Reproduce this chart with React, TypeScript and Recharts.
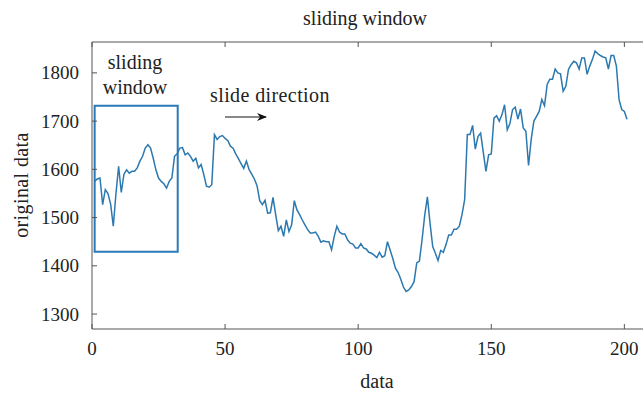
import React from 'react';
import { LineChart, Line, XAxis, YAxis, ReferenceArea } from 'recharts';

// original series, sample index 1..201
const originalData: number[] = [
    1575, 1580, 1582, 1527, 1558, 1550, 1528, 1482, 1550, 1606,
    1552, 1590, 1599, 1592, 1596, 1596, 1603, 1617, 1627, 1644,
    1651, 1644, 1623, 1599, 1582, 1575, 1570, 1561, 1575, 1582,
    1627, 1632, 1644, 1645, 1630, 1634, 1627, 1617, 1623, 1603,
    1610, 1589, 1565, 1563, 1568, 1672, 1662, 1668, 1670, 1664,
    1660, 1648, 1644, 1632, 1622, 1612, 1602, 1617, 1600, 1590,
    1580, 1566, 1535, 1527, 1536, 1509, 1510, 1542, 1506, 1473,
    1482, 1461, 1495, 1471, 1485, 1535, 1516, 1506, 1495, 1485,
    1475, 1468, 1468, 1470, 1461, 1449, 1452, 1450, 1450, 1433,
    1461, 1482, 1470, 1466, 1466, 1454, 1447, 1445, 1437, 1437,
    1446, 1437, 1435, 1428, 1426, 1422, 1417, 1428, 1418, 1421,
    1450, 1433, 1415, 1395, 1386, 1372, 1356, 1347, 1350, 1357,
    1367, 1406, 1410, 1454, 1505, 1543, 1488, 1440, 1426, 1411,
    1432, 1428, 1444, 1464, 1464, 1476, 1476, 1482, 1506, 1537,
    1672, 1672, 1691, 1642, 1668, 1675, 1635, 1596, 1630, 1632,
    1706, 1711, 1700, 1713, 1734, 1682, 1695, 1724, 1729, 1704,
    1725, 1686, 1679, 1608, 1662, 1700, 1710, 1720, 1745, 1732,
    1776, 1787, 1787, 1808, 1800, 1798, 1762, 1772, 1807, 1817,
    1824, 1821, 1808, 1831, 1831, 1797, 1814, 1828, 1845, 1840,
    1836, 1833, 1831, 1808, 1836, 1836, 1814, 1745, 1724, 1720,
    1704,
];

const xTicks = [0, 50, 100, 150, 200];
const yTicks = [1300, 1400, 1500, 1600, 1700, 1800];

// the highlighted window: samples 1..32
const windowStart = 1;
const windowEnd = 32.2;
const windowLow = 1429;
const windowHigh = 1732;

const chartData = originalData.map((v, i) => ({ idx: i + 1, value: v }));

const FONT = '"Liberation Serif", "DejaVu Serif", serif';
const AXIS = '#555';
const TEXT = '#222';

const BottomTick = (props: any) => {
    const { x, y, payload } = props;
    return (
        <g>
            <line x1={x} y1={y} x2={x} y2={y - 5} stroke={AXIS} />
            <text x={x} y={y + 26} textAnchor="middle" fontFamily={FONT} fontSize={19} fill={TEXT}>
                {payload.value}
            </text>
        </g>
    );
};

const TopTick = (props: any) => {
    const { x, y } = props;
    return <line x1={x} y1={y} x2={x} y2={y + 5} stroke={AXIS} />;
};

const LeftTick = (props: any) => {
    const { x, y, payload } = props;
    return (
        <g>
            <line x1={x} y1={y} x2={x + 5} y2={y} stroke={AXIS} />
            <text x={x - 13} y={y + 6.5} textAnchor="end" fontFamily={FONT} fontSize={19} fill={TEXT}>
                {payload.value}
            </text>
        </g>
    );
};

export default function App() {
    return (
        <div style={{ position: 'absolute', left: 0, top: 0, width: 643, height: 394, background: '#fff' }}>
            <LineChart width={643} height={394} data={chartData}
                margin={{ top: 0, right: 0, left: 0, bottom: 0 }}>
                <XAxis xAxisId="top" orientation="top" dataKey="idx" type="number"
                    domain={[0, 207]} ticks={xTicks} height={42}
                    stroke={AXIS} tickLine={false} tickSize={0} tickMargin={0}
                    tick={<TopTick />} />
                <XAxis dataKey="idx" type="number" domain={[0, 207]} ticks={xTicks}
                    height={65} stroke={AXIS} tickLine={false} tickSize={0} tickMargin={0}
                    tick={<BottomTick />} allowDataOverflow />
                <YAxis type="number" domain={[1269, 1864]} ticks={yTicks} width={92}
                    stroke={AXIS} tickLine={false} tickSize={0} tickMargin={0}
                    tick={<LeftTick />} allowDataOverflow />
                <ReferenceArea x1={windowStart} x2={windowEnd} y1={windowLow} y2={windowHigh}
                    fill="none" fillOpacity={0} stroke="#2a7ab9" strokeWidth={2} />
                <Line type="linear" dataKey="value" stroke="#2c79b0" strokeWidth={1.5}
                    dot={false} isAnimationActive={false} />
            </LineChart>
            <svg width={643} height={394}
                style={{ position: 'absolute', left: 0, top: 0, pointerEvents: 'none' }}>
                <defs>
                    <marker id="arrowHead" markerWidth="10" markerHeight="8" refX="9" refY="4"
                        orient="auto" markerUnits="userSpaceOnUse">
                        <path d="M0,0 L10,4 L0,8 L3,4 Z" fill="#111" />
                    </marker>
                </defs>
                <text x={365} y={25} textAnchor="middle" fontFamily={FONT} fontSize={20} fill={TEXT}>
                    sliding window
                </text>
                <text x={135} y={69} textAnchor="middle" fontFamily={FONT} fontSize={20} fill={TEXT}>
                    sliding
                </text>
                <text x={135} y={94} textAnchor="middle" fontFamily={FONT} fontSize={20} fill={TEXT}>
                    window
                </text>
                <text x={210} y={102} fontFamily={FONT} fontSize={20} fill={TEXT} letterSpacing={0.4}>
                    slide direction
                </text>
                <line x1={225} y1={117} x2={266} y2={117} stroke="#111" strokeWidth={1}
                    markerEnd="url(#arrowHead)" />
                <text x={377} y={388} textAnchor="middle" fontFamily={FONT} fontSize={20} fill={TEXT}>
                    data
                </text>
                <text transform="translate(28,185) rotate(-90)" textAnchor="middle"
                    fontFamily={FONT} fontSize={20} fill={TEXT} letterSpacing={0.4}>
                    original data
                </text>
            </svg>
        </div>
    );
}
